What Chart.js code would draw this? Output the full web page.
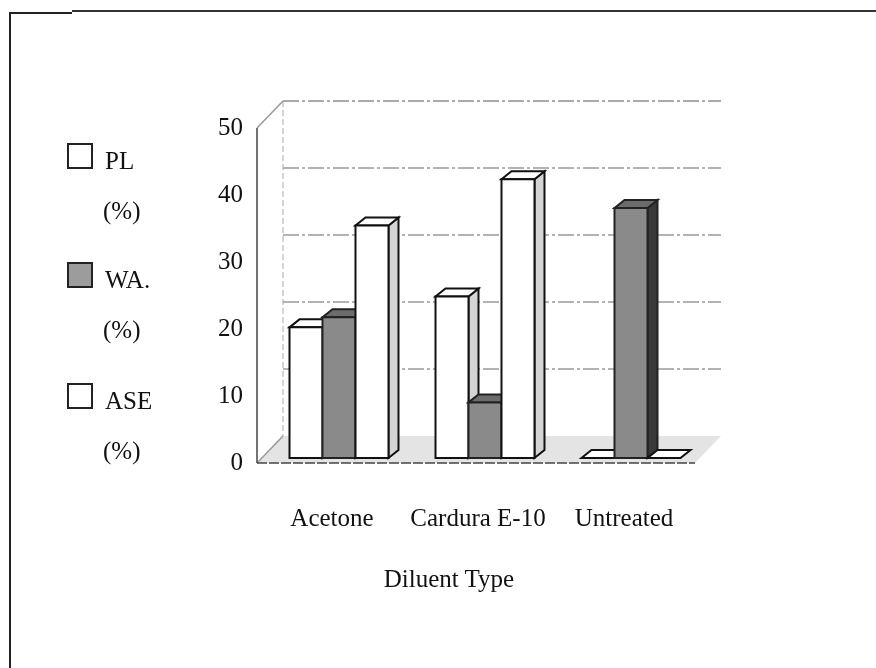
<!DOCTYPE html>
<html>
<head>
<meta charset="utf-8">
<script src="https://cdn.jsdelivr.net/npm/chart.js@4.4.0/dist/chart.umd.min.js"></script>
<style>
  html, body { margin: 0; padding: 0; background: #fff; }
  #wrap { position: relative; width: 876px; height: 668px; overflow: hidden;
          font-family: "Liberation Serif", "Times New Roman", serif; color: #111; }
  #frame { position: absolute; left: 9px; top: 12px; width: 900px; height: 700px;
           border-left: 2px solid #222; }
  #topA { position: absolute; left: 9px; top: 12px; width: 63px; height: 0; border-top: 2px solid #222; }
  #topB { position: absolute; left: 72px; top: 10px; width: 820px; height: 0; border-top: 2px solid #333; }
  canvas { position: absolute; left: 0; top: 0; }
  .lg-box { position: absolute; width: 22px; height: 22px; border: 2px solid #222; }
  .lg-txt { position: absolute; font-size: 25px; line-height: 25px; white-space: nowrap; }
  #xtitle { position: absolute; font-size: 25px; line-height: 25px; white-space: nowrap;
            transform: translateX(-50%); }
</style>
</head>
<body>
<div id="wrap">
  <div id="frame"></div>
  <div id="topA"></div>
  <div id="topB"></div>
  <canvas id="c" width="876" height="668"></canvas>
  <div id="legend"></div>
  <div id="xtitle"></div>
</div>
<script>
// data
const categories = ['Acetone', 'Cardura E-10', 'Untreated'];
const seriesNames = ['PL', 'WA.', 'ASE'];
const seriesUnit = '(%)';
const plValues = [19.5, 24.1, 0];
const waValues = [21, 8.3, 37.3];
const aseValues = [34.7, 41.6, 0];
const yTicks = [0, 10, 20, 30, 40, 50];
const xTitle = 'Diluent Type';

// looks of each series: front, top, side faces
const frontCol = ['#ffffff', '#8a8a8a', '#ffffff'];
const topCol = ['#ffffff', '#6c6c6c', '#ffffff'];
const sideCol = ['#d4d4d4', '#3a3a3a', '#d4d4d4'];
const lineCol = ['#111', '#222', '#111'];

const DX = 10, DY = -8;          // bar depth
const FX = -9, FY = 5;           // front plane offset from bar plane
const BX = 17, BY = -22;         // back wall offset from bar plane

function poly(ctx, pts, fill, stroke, lw) {
  ctx.beginPath();
  ctx.moveTo(pts[0][0], pts[0][1]);
  for (let i = 1; i < pts.length; i++) ctx.lineTo(pts[i][0], pts[i][1]);
  ctx.closePath();
  if (fill) { ctx.fillStyle = fill; ctx.fill(); }
  if (stroke) { ctx.strokeStyle = stroke; ctx.lineWidth = lw; ctx.stroke(); }
}

function line(ctx, x1, y1, x2, y2, col, lw, dash) {
  ctx.save();
  ctx.beginPath();
  ctx.setLineDash(dash || []);
  ctx.moveTo(x1, y1);
  ctx.lineTo(x2, y2);
  ctx.strokeStyle = col;
  ctx.lineWidth = lw;
  ctx.stroke();
  ctx.restore();
}

const bar3d = {
  id: 'bar3d',
  beforeDatasetsDraw(chart) {
    const { ctx, chartArea: a, scales } = chart;
    const ys = scales.y;
    ctx.save();
    // floor
    poly(ctx, [[a.left + FX, a.bottom + FY], [a.right + FX, a.bottom + FY],
               [a.right + BX, a.bottom + BY], [a.left + BX, a.bottom + BY]], '#e4e4e4');
    // back wall grid lines
    yTicks.forEach(v => {
      if (v === 0) return;
      const py = ys.getPixelForValue(v) + BY;
      line(ctx, a.left + BX, py, a.right + BX, py, v === 50 ? '#555' : '#666', 1, [16, 3, 3, 3]);
    });
    // left wall edges
    line(ctx, a.left + BX, a.top + BY, a.left + BX, a.bottom + BY, '#aaa', 1, [6, 3]);
    line(ctx, a.left + FX, a.top + FY, a.left + BX, a.top + BY, '#999', 1.5);
    line(ctx, a.left + FX, a.bottom + FY, a.left + BX, a.bottom + BY, '#999', 1.5);
    line(ctx, a.left + FX, a.top + FY, a.left + FX, a.bottom + FY, '#444', 1.5);
    line(ctx, a.left + FX, a.bottom + FY, a.right + FX, a.bottom + FY, '#444', 1.5, [10, 2]);
    ctx.restore();
  },
  afterDatasetsDraw(chart) {
    const ctx = chart.ctx;
    ctx.save();
    ctx.lineJoin = 'miter';
    categories.forEach((c, i) => {
      chart.data.datasets.forEach((ds, d) => {
        const el = chart.getDatasetMeta(d).data[i];
        const p = el.getProps(['x', 'y', 'base', 'width'], true);
        const l = p.x - p.width / 2, r = p.x + p.width / 2;
        const t = Math.min(p.y, p.base), b = Math.max(p.y, p.base);
        // side
        if (b - t > 0.5) {
          poly(ctx, [[r, t], [r + DX, t + DY], [r + DX, b + DY], [r, b]], sideCol[d], lineCol[d], 2);
        }
        // top
        poly(ctx, [[l, t], [l + DX, t + DY], [r + DX, t + DY], [r, t]], topCol[d], lineCol[d], 2);
        // front
        if (b - t > 0.5) {
          poly(ctx, [[l, t], [r, t], [r, b], [l, b]], frontCol[d], lineCol[d], 2);
        }
      });
    });
    ctx.restore();
  }
};

const valueSets = [plValues, waValues, aseValues];

new Chart(document.getElementById('c'), {
  type: 'bar',
  data: {
    labels: categories,
    datasets: seriesNames.map((n, d) => ({
      label: n,
      data: valueSets[d],
      backgroundColor: frontCol[d],
      borderColor: lineCol[d],
      borderWidth: 0,
      categoryPercentage: 0.678,
      barPercentage: 1.0
    }))
  },
  options: {
    responsive: false,
    animation: false,
    events: [],
    layout: { padding: { top: 123, right: 172, bottom: 0, left: 0 } },
    plugins: { legend: { display: false }, tooltip: { enabled: false } },
    scales: {
      x: {
        offset: true,
        grid: { display: false, drawTicks: false },
        border: { display: false },
        ticks: {
          color: '#111',
          font: { family: 'Liberation Serif', size: 25 },
          padding: 46,
          labelOffset: -7,
          maxRotation: 0
        },
        afterFit(s) { s.height = 210; }
      },
      y: {
        min: 0,
        max: 50,
        grid: { display: false, drawTicks: false },
        border: { display: false },
        afterBuildTicks(s) { s.ticks = yTicks.map(v => ({ value: v })); },
        ticks: {
          color: '#111',
          font: { family: 'Liberation Serif', size: 25 },
          padding: 23,
          labelOffset: 5
        },
        afterFit(s) { s.width = 266; }
      }
    }
  },
  plugins: [bar3d]
});

// legend and axis title as page text
const legend = document.getElementById('legend');
const boxTops = [143, 262, 383];
seriesNames.forEach((n, d) => {
  const box = document.createElement('div');
  box.className = 'lg-box';
  box.style.left = '67px';
  box.style.top = boxTops[d] + 'px';
  box.style.background = d === 1 ? '#9c9c9c' : '#fff';
  legend.appendChild(box);
  const t1 = document.createElement('div');
  t1.className = 'lg-txt';
  t1.style.left = '105px';
  t1.style.top = (boxTops[d] + 5) + 'px';
  t1.textContent = n;
  legend.appendChild(t1);
  const t2 = document.createElement('div');
  t2.className = 'lg-txt';
  t2.style.left = '103px';
  t2.style.top = (boxTops[d] + 55) + 'px';
  t2.textContent = seriesUnit;
  legend.appendChild(t2);
});
const xt = document.getElementById('xtitle');
xt.textContent = xTitle;
xt.style.left = '449px';
xt.style.top = '566px';
</script>
</body>
</html>
